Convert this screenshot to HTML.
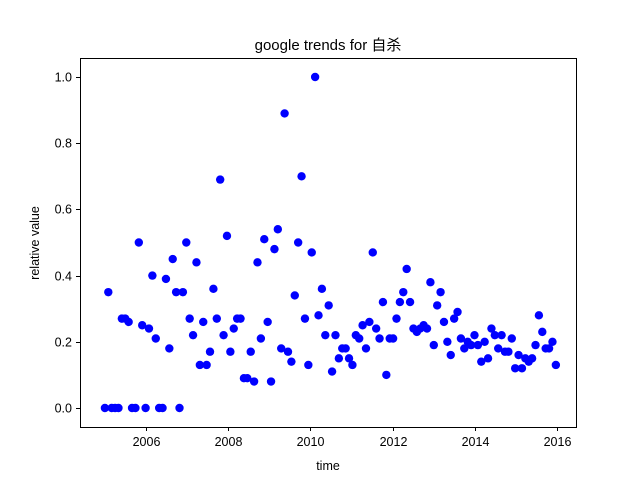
<!DOCTYPE html>
<html><head><meta charset="utf-8"><style>
body{margin:0;background:#fff;}
svg text{font-family:"Liberation Sans","Noto Sans CJK SC",sans-serif;fill:#000;}
</style></head><body>
<svg id="chart" width="640" height="480">
<rect width="640" height="480" fill="#fff"/>
<text x="328" y="50" font-size="15" text-anchor="middle">google trends for 自杀</text>
<g id="ticks"></g>
<g id="points"></g>
<rect x="80.5" y="58.5" width="496" height="369" fill="none" stroke="#000" stroke-width="1"/>
<text x="328" y="470" font-size="12.5" text-anchor="middle">time</text>
<text x="39" y="243" font-size="12.5" text-anchor="middle" transform="rotate(-90 39 243)">relative value</text>
</svg>
<script>
const values=[0,0.35,0,0,0,0.27,0.27,0.26,0,0,0.5,0.25,0,0.24,0.40,0.21,0,0,0.39,0.18,0.45,0.35,0,0.35,0.50,0.27,0.22,0.44,0.13,0.26,0.13,0.17,0.36,0.27,0.69,0.22,0.52,0.17,0.24,0.27,0.27,0.09,0.09,0.17,0.08,0.44,0.21,0.51,0.26,0.08,0.48,0.54,0.18,0.89,0.17,0.14,0.34,0.50,0.70,0.27,0.13,0.47,1.0,0.28,0.36,0.22,0.31,0.11,0.22,0.15,0.18,0.18,0.15,0.13,0.22,0.21,0.25,0.18,0.26,0.47,0.24,0.21,0.32,0.10,0.21,0.21,0.27,0.32,0.35,0.42,0.32,0.24,0.23,0.24,0.25,0.24,0.38,0.19,0.31,0.35,0.26,0.20,0.16,0.27,0.29,0.21,0.18,0.20,0.19,0.22,0.19,0.14,0.20,0.15,0.24,0.22,0.18,0.22,0.17,0.17,0.21,0.12,0.16,0.12,0.15,0.14,0.15,0.19,0.28,0.23,0.18,0.18,0.20,0.13];
const startYear=2005.0;
const endYear=2015.97;
const xTicks=[2006,2008,2010,2012,2014,2016];
const yTicks=[0.0,0.2,0.4,0.6,0.8,1.0];
const dates=[];
for(let i=0;i<values.length;i++){dates.push(startYear+i*(endYear-startYear)/(values.length-1));}
const X0=80,X1=576,Y0=427,Y1=58;
const xMin=2004.394,xMax=2016.46,yMin=-0.0574,yMax=1.0574;
function sx(v){return X0+(v-xMin)/(xMax-xMin)*(X1-X0);}
function sy(v){return Y0-(v-yMin)/(yMax-yMin)*(Y0-Y1);}
const NS="http://www.w3.org/2000/svg";
const tg=document.getElementById('ticks');
xTicks.forEach(t=>{
 const x=Math.round(sx(t))+0.5;
 const l=document.createElementNS(NS,'line');
 l.setAttribute('x1',x);l.setAttribute('x2',x);l.setAttribute('y1',427);l.setAttribute('y2',431);l.setAttribute('stroke','#000');
 
 
 tg.appendChild(l);
 const tx=document.createElementNS(NS,'text');
 tx.setAttribute('x',x);tx.setAttribute('y',446);tx.setAttribute('font-size','12.5');tx.setAttribute('text-anchor','middle');
 tx.textContent=t;
 
 
 tg.appendChild(tx);
});
yTicks.forEach(t=>{
 const y=Math.round(sy(t))+0.5;
 const l=document.createElementNS(NS,'line');
 l.setAttribute('x1',76);l.setAttribute('x2',80);l.setAttribute('y1',y);l.setAttribute('y2',y);l.setAttribute('stroke','#000');
 
 
 tg.appendChild(l);
 const tx=document.createElementNS(NS,'text');
 tx.setAttribute('x',72);tx.setAttribute('y',y+4);tx.setAttribute('font-size','12.5');tx.setAttribute('text-anchor','end');
 tx.textContent=t.toFixed(1);
 
 
 tg.appendChild(tx);
});
const pg=document.getElementById('points');
values.forEach((v,i)=>{
 const c=document.createElementNS(NS,'circle');
 c.setAttribute('cx',sx(dates[i]));c.setAttribute('cy',sy(v));c.setAttribute('r',4.2);c.setAttribute('fill','#0000ff');
 
 
 pg.appendChild(c);
});
</script>
</body></html>
